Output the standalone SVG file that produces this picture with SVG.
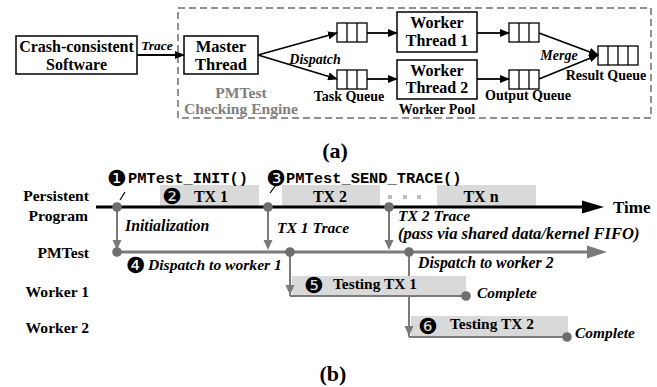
<svg xmlns="http://www.w3.org/2000/svg" width="657" height="387" viewBox="0 0 657 387">
<style>
.b{font-family:"Liberation Serif","Times New Roman",serif;font-weight:bold;fill:#000}
.bi{font-family:"Liberation Serif","Times New Roman",serif;font-weight:bold;font-style:italic;fill:#000}
.m{font-family:"Liberation Mono","Courier New",monospace;font-weight:bold;font-size:15.4px;fill:#000}
.n{font-family:"DejaVu Sans",sans-serif;font-size:22px;fill:#000}
.box{fill:#fff;stroke:#000;stroke-width:1.5}
.q{fill:#fff;stroke:#000;stroke-width:1.3}
.ar{stroke:#000;stroke-width:1.8;fill:none}
.gl{stroke:#7a7a7a;stroke-width:3;fill:none}
.gv{stroke:#7a7a7a;stroke-width:2;fill:none}
.gb{fill:#d9d9d9}
.dot{fill:#6e6e6e}
.ga{fill:#7a7a7a}
.gt{fill:#808080}
</style>
<defs>
<marker id="ah" markerUnits="userSpaceOnUse" markerWidth="10" markerHeight="8" refX="9" refY="4" orient="auto">
<path d="M0,0 L10,4 L0,8 Z" fill="#000"/>
</marker>
</defs>

<!-- (a) -->
<rect id="engine" x="178" y="8" width="473" height="110" fill="none" stroke="#6e6e6e" stroke-width="1.5" stroke-dasharray="7,4"/>

<g id="software">
<rect class="box" x="16" y="36" width="121" height="38"/>
<text class="b" font-size="16" x="76.5" y="52" text-anchor="middle">Crash-consistent</text>
<text class="b" font-size="16" x="76.5" y="70" text-anchor="middle">Software</text>
</g>
<g id="master">
<rect class="box" x="184" y="36" width="74" height="38"/>
<text class="b" font-size="16.5" x="221" y="52" text-anchor="middle">Master</text>
<text class="b" font-size="16.5" x="221" y="70" text-anchor="middle">Thread</text>
</g>
<g id="engine-label">
<text class="b gt" font-size="15.6" x="241" y="98" text-anchor="middle">PMTest</text>
<text class="b gt" font-size="15.6" x="241" y="114" text-anchor="middle">Checking Engine</text>
</g>
<g id="taskq1">
<rect class="q" x="337" y="23" width="30" height="19"/>
<path d="M347,23V42M357,23V42" stroke="#000" stroke-width="1.3"/>
</g>
<g id="taskq2">
<rect class="q" x="337" y="70" width="30" height="19"/>
<path d="M347,70V89M357,70V89" stroke="#000" stroke-width="1.3"/>
<text class="b" font-size="14" x="349" y="101" text-anchor="middle">Task Queue</text>
</g>
<g id="worker1">
<rect class="box" x="397" y="12" width="80" height="40"/>
<text class="b" font-size="16" x="437" y="28" text-anchor="middle">Worker</text>
<text class="b" font-size="16" x="437" y="46" text-anchor="middle">Thread 1</text>
</g>
<g id="worker2">
<rect class="box" x="397" y="60" width="80" height="39"/>
<text class="b" font-size="16" x="437" y="76" text-anchor="middle">Worker</text>
<text class="b" font-size="16" x="437" y="93" text-anchor="middle">Thread 2</text>
<text class="b" font-size="14" x="437" y="114" text-anchor="middle">Worker Pool</text>
</g>
<g id="outq1">
<rect class="q" x="509" y="23" width="30" height="19"/>
<path d="M519,23V42M529,23V42" stroke="#000" stroke-width="1.3"/>
</g>
<g id="outq2">
<rect class="q" x="509" y="70" width="30" height="19"/>
<path d="M519,70V89M529,70V89" stroke="#000" stroke-width="1.3"/>
<text class="b" font-size="14" x="528" y="100" text-anchor="middle">Output Queue</text>
</g>
<g id="resultq">
<rect class="q" x="598" y="46" width="40" height="19"/>
<path d="M608,46V65M618,46V65M628,46V65" stroke="#000" stroke-width="1.3"/>
<text class="b" font-size="14" x="606" y="80" text-anchor="middle">Result Queue</text>
</g>

<g id="connectors-a">
<line class="ar" x1="137" y1="55" x2="184" y2="55" marker-end="url(#ah)"/>
<text class="bi" font-size="13.5" x="157" y="50" text-anchor="middle">Trace</text>
<line class="ar" x1="258" y1="55" x2="337" y2="33" marker-end="url(#ah)"/>
<line class="ar" x1="258" y1="55" x2="337" y2="79" marker-end="url(#ah)"/>
<text class="bi" font-size="14" x="315" y="64" text-anchor="middle">Dispatch</text>
<line class="ar" x1="367" y1="33" x2="397" y2="33" marker-end="url(#ah)"/>
<line class="ar" x1="367" y1="79" x2="397" y2="79" marker-end="url(#ah)"/>
<line class="ar" x1="477" y1="33" x2="509" y2="33" marker-end="url(#ah)"/>
<line class="ar" x1="477" y1="79" x2="509" y2="79" marker-end="url(#ah)"/>
<line class="ar" x1="539" y1="33" x2="598" y2="55" marker-end="url(#ah)"/>
<line class="ar" x1="539" y1="79" x2="598" y2="55" marker-end="url(#ah)"/>
<text class="bi" font-size="14" x="559" y="60" text-anchor="middle">Merge</text>
</g>

<text class="b" font-size="22" x="335" y="158" text-anchor="middle">(a)</text>

<!-- (b) -->
<g id="row-labels">
<text class="b" font-size="15.6" x="89" y="201" text-anchor="end">Persistent</text>
<text class="b" font-size="15.6" x="88" y="221" text-anchor="end">Program</text>
<text class="b" font-size="15.6" x="89" y="258" text-anchor="end">PMTest</text>
<text class="b" font-size="15.6" x="89" y="297" text-anchor="end">Worker 1</text>
<text class="b" font-size="15.6" x="89" y="333" text-anchor="end">Worker 2</text>
</g>

<g id="tx-boxes">
<rect class="gb" x="160" y="185" width="99" height="21"/>
<text class="n" x="162" y="204">❷</text>
<text class="b" font-size="16" x="211" y="202" text-anchor="middle">TX 1</text>
<rect class="gb" x="282" y="185" width="98" height="21"/>
<text class="b" font-size="16" x="330" y="202" text-anchor="middle">TX 2</text>
<rect x="388" y="195" width="4" height="4" fill="#bdbdbd"/>
<rect x="403" y="195" width="4" height="4" fill="#bdbdbd"/>
<rect x="417" y="195" width="4" height="4" fill="#bdbdbd"/>
<rect class="gb" x="437" y="185" width="99" height="21"/>
<text class="b" font-size="16" x="481" y="202" text-anchor="middle">TX n</text>
</g>

<g id="api-labels">
<text class="n" x="107" y="186">❶</text>
<text class="m" x="128" y="183">PMTest_INIT()</text>
<text class="n" x="266" y="186">❸</text>
<text class="m" x="286" y="183">PMTest_SEND_TRACE()</text>
<line x1="120" y1="200" x2="125" y2="192" stroke="#000" stroke-width="1.2"/>
<line x1="270" y1="193" x2="276" y2="185" stroke="#000" stroke-width="1.2"/>
</g>

<g id="time-axis">
<line x1="96" y1="207" x2="584" y2="207" stroke="#000" stroke-width="3"/>
<polygon points="582,200.5 604,207 582,213.5" fill="#000"/>
<text class="b" font-size="17" x="613" y="213">Time</text>
</g>

<g id="connectors-b">
<line class="gl" x1="117" y1="252" x2="589" y2="252"/>
<polygon class="ga" points="587,245.5 607,252 587,258.5"/>
<line class="gv" x1="117" y1="207" x2="117" y2="242"/>
<polygon class="ga" points="112.5,240 121.5,240 117,250"/>
<line class="gv" x1="268" y1="207" x2="268" y2="242"/>
<polygon class="ga" points="263.5,240 272.5,240 268,250"/>
<line class="gv" x1="389" y1="207" x2="389" y2="242"/>
<polygon class="ga" points="384.5,240 393.5,240 389,250"/>
<line class="gv" x1="290" y1="252" x2="290" y2="296"/>
<line class="gv" x1="409" y1="252" x2="409" y2="337"/>
</g>

<g id="worker1-task">
<rect class="gb" x="292" y="276" width="174" height="19"/>
<text class="n" x="304" y="293">❺</text>
<text class="b" font-size="15.4" x="333" y="289">Testing TX 1</text>
<line class="gv" x1="290" y1="296" x2="466" y2="296"/>
<polygon class="ga" points="285.5,285 294.5,285 290,295"/>
</g>
<line class="gv" x1="409" y1="295" x2="409" y2="337"/>

<g id="worker2-task">
<rect class="gb" x="411" y="316" width="157" height="20"/>
<text class="n" x="418" y="334">❻</text>
<text class="b" font-size="15.4" x="450" y="329">Testing TX 2</text>
<line class="gv" x1="409" y1="337" x2="567" y2="337"/>
<polygon class="ga" points="404.5,326 413.5,326 409,336"/>
</g>

<g id="dots">
<circle class="dot" cx="117" cy="207" r="4.8"/>
<circle class="dot" cx="268" cy="207" r="4.8"/>
<circle class="dot" cx="389" cy="207" r="4.8"/>
<circle class="dot" cx="117" cy="252" r="4.8"/>
<circle class="dot" cx="290" cy="252" r="4.8"/>
<circle class="dot" cx="409" cy="252" r="4.8"/>
<circle class="dot" cx="466" cy="296" r="4.8"/>
<circle class="dot" cx="567" cy="337" r="4.8"/>
</g>

<g id="b-labels">
<text class="bi" font-size="15.8" x="125" y="231">Initialization</text>
<text class="bi" font-size="15.6" x="277" y="233">TX 1 Trace</text>
<text class="bi" font-size="15.6" x="398" y="221">TX 2 Trace</text>
<text class="bi" font-size="16.6" x="398" y="239">(pass via shared data/kernel FIFO)</text>
<text class="n" x="126" y="273">❹</text>
<text class="bi" font-size="15.6" x="148" y="270">Dispatch to worker 1</text>
<text class="bi" font-size="15.8" x="418" y="268">Dispatch to worker 2</text>
<text class="bi" font-size="15.4" x="477" y="298">Complete</text>
<text class="bi" font-size="15.4" x="575" y="338">Complete</text>
</g>

<text class="b" font-size="22" x="333" y="381" text-anchor="middle">(b)</text>
</svg>
